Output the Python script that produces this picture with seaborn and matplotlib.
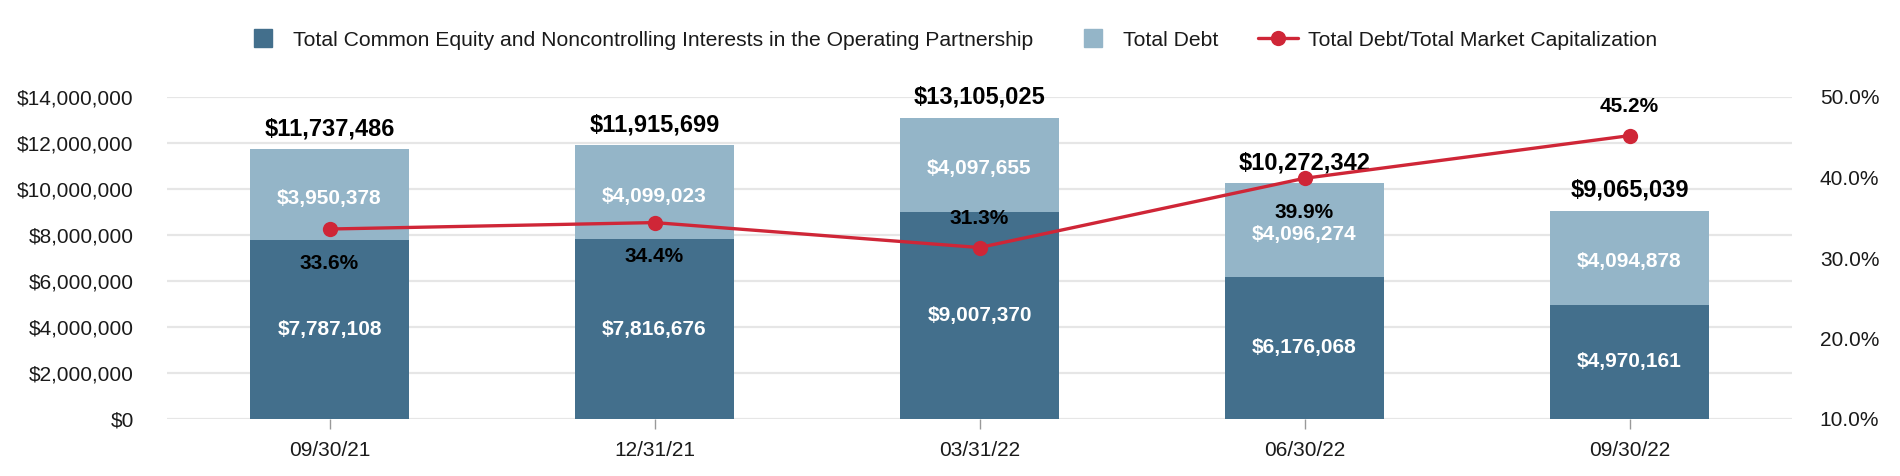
import numpy as np
import pandas as pd
import matplotlib
matplotlib.use("Agg")
import matplotlib.pyplot as plt
import seaborn as sns
from matplotlib.lines import Line2D
from matplotlib.ticker import FuncFormatter

# ---- data ----
dates = ["09/30/21", "12/31/21", "03/31/22", "06/30/22", "09/30/22"]
equity = [7787108, 7816676, 9007370, 6176068, 4970161]
debt = [3950378, 4099023, 4097655, 4096274, 4094878]
debt_ratio = [33.6, 34.4, 31.3, 39.9, 45.2]
ratio_label_above = [False, False, True, False, True]
left_ticks = [0, 2000000, 4000000, 6000000, 8000000, 10000000, 12000000, 14000000]
right_ticks = [10, 20, 30, 40, 50]
legend_labels = ["Total Common Equity and Noncontrolling Interests in the Operating Partnership",
                 "Total Debt", "Total Debt/Total Market Capitalization"]

sns.set_theme(style="white")
plt.rcParams['font.family'] = ['Liberation Sans', 'DejaVu Sans']

DARK = "#436f8c"
LIGHT = "#94b5c8"
RED = "#cf2637"
GRID = "#e6e6e6"
TXT = "#1a1a1a"

df = pd.DataFrame({"date": dates, "equity": equity, "debt": debt, "ratio": debt_ratio})
df["total"] = df["equity"] + df["debt"]

W, H = 1900, 476
fig = plt.figure(figsize=(W / 100, H / 100), dpi=100)
ax = fig.add_axes([167 / W, 1 - 419 / H, (1792 - 167) / W, (419 - 97) / H])

sns.barplot(data=df, x="date", y="total", color=LIGHT, width=0.49, saturation=1,
            errorbar=None, ax=ax, zorder=2, linewidth=0, edgecolor="none")
sns.barplot(data=df, x="date", y="equity", color=DARK, width=0.49, saturation=1,
            errorbar=None, ax=ax, zorder=2, linewidth=0, edgecolor="none")

ax.set_xlim(-0.5, len(dates) - 0.5)
ax.set_ylim(left_ticks[0], left_ticks[-1])
ax.set_yticks(left_ticks)
ax.yaxis.set_major_formatter(FuncFormatter(lambda v, p: f"${v:,.0f}"))
ax.set_xlabel("")
ax.set_ylabel("")
ax.yaxis.grid(True, color=GRID, lw=1.6)
ax.set_axisbelow(True)
for s in ax.spines.values():
    s.set_visible(False)
ax.tick_params(axis="y", length=0, pad=24, labelsize=15, labelcolor=TXT)
ax.tick_params(axis="x", length=7.5, width=1, color="#999999", pad=8, labelsize=15,
               labelcolor=TXT, bottom=True)

# segment labels
for i, row in df.iterrows():
    ax.text(i, row["equity"] / 2, f"${row['equity']:,}", ha="center", va="center",
            color="white", fontsize=15, fontweight="bold", zorder=5)
    ax.annotate(f"${row['debt']:,}", (i, row["equity"] + row["debt"] / 2),
                xytext=(0, -3), textcoords="offset points", ha="center", va="center",
                color="white", fontsize=15, fontweight="bold", zorder=5)
    ax.annotate(f"${row['total']:,}", (i, row["total"]), xytext=(0, 14.5),
                textcoords="offset points", ha="center", va="center",
                color="black", fontsize=17, fontweight="bold", zorder=5)

# line on secondary axis
ax2 = ax.twinx()
sns.lineplot(data=df, x="date", y="ratio", color=RED, lw=2.4, marker="o",
             markersize=11, markeredgewidth=0, ax=ax2, sort=False)
ax2.set_ylim(right_ticks[0], right_ticks[-1])
ax2.set_yticks(right_ticks)
ax2.yaxis.set_major_formatter(FuncFormatter(lambda v, p: f"{v:.1f}%"))
ax2.set_ylabel("")
ax2.grid(False)
for s in ax2.spines.values():
    s.set_visible(False)
ax2.tick_params(axis="y", length=0, pad=20, labelsize=15, labelcolor=TXT)
ax.set_xlim(-0.5, len(dates) - 0.5)

for i, (r, up) in enumerate(zip(debt_ratio, ratio_label_above)):
    off = 21 if up else -24.5
    ax2.annotate(f"{r:.1f}%", (i, r), xytext=(0, off), textcoords="offset points",
                 ha="center", va="center", color="black", fontsize=15,
                 fontweight="bold", zorder=6)

# legend
handles = [
    Line2D([], [], marker="s", linestyle="none", markersize=13, color=DARK),
    Line2D([], [], marker="s", linestyle="none", markersize=13, color=LIGHT),
    Line2D([], [], marker="o", color=RED, lw=2.4, markersize=11, markeredgewidth=0),
]
fig.legend(handles, legend_labels, loc="center", bbox_to_anchor=(0.5, 1 - 40 / H),
           ncol=3, frameon=False, fontsize=15.2, handlelength=1.9, handletextpad=0.45,
           columnspacing=1.9, labelcolor=TXT)

fig.savefig("out.png", dpi=100)
